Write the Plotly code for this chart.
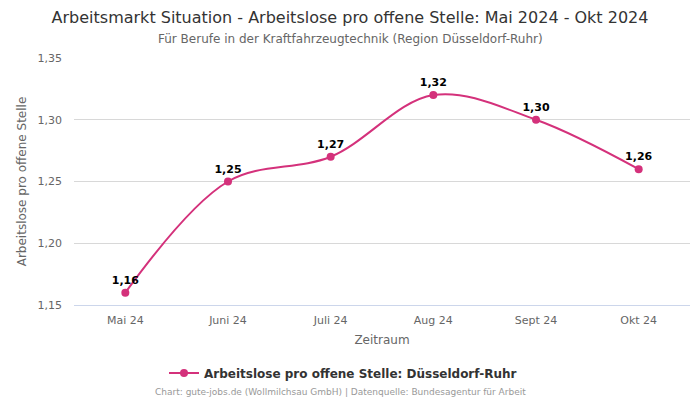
import plotly.graph_objects as go

months = ["Mai 24", "Juni 24", "Juli 24", "Aug 24", "Sept 24", "Okt 24"]
values = [1.16, 1.25, 1.27, 1.32, 1.30, 1.26]
labels = ["1,16", "1,25", "1,27", "1,32", "1,30", "1,26"]
yticks = [1.15, 1.20, 1.25, 1.30, 1.35]

color = "#d4317b"
font = "DejaVu Sans"

fig = go.Figure()
fig.add_trace(go.Scatter(
    x=months, y=values, mode="lines+markers+text",
    line=dict(color=color, width=2, shape="spline", smoothing=1.0),
    marker=dict(color=color, size=8),
    text=labels, textposition="top center",
    textfont=dict(family=font, size=11, color="#000000", weight="bold"),
    name="Arbeitslose pro offene Stelle: Düsseldorf-Ruhr",
    cliponaxis=False,
))

fig.update_layout(
    width=700, height=400,
    margin=dict(l=74, r=10, t=58, b=95, autoexpand=False),
    paper_bgcolor="white", plot_bgcolor="white",
    separators=",.",
    font=dict(family=font, color="#666666"),
    title=dict(
        text="Arbeitsmarkt Situation - Arbeitslose pro offene Stelle: Mai 2024 - Okt 2024",
        x=0.5, xanchor="center", xref="container",
        y=0.9575, yanchor="middle", yref="container",
        font=dict(family=font, size=16, color="#333333"),
    ),
    annotations=[
        dict(text="Für Berufe in der Kraftfahrzeugtechnik (Region Düsseldorf-Ruhr)",
             xref="paper", yref="paper", x=(350 - 74) / 616, y=1.0, yshift=19, showarrow=False,
             xanchor="center", yanchor="middle",
             font=dict(family=font, size=12, color="#666666")),
        dict(text="Chart: gute-jobs.de (Wollmilchsau GmbH) | Datenquelle: Bundesagentur für Arbeit",
             xref="paper", yref="paper", x=(340 - 74) / 616, y=0, yshift=-87, showarrow=False,
             xanchor="center", yanchor="middle",
             font=dict(family=font, size=9, color="#999999")),
    ],
    showlegend=True,
    legend=dict(orientation="h", x=0.49, xanchor="center", xref="container",
                y=0.0675, yanchor="middle", yref="container",
                font=dict(family=font, size=12, color="#333333", weight="bold")),
    xaxis=dict(
        title=dict(text="Zeitraum", font=dict(family=font, size=12, color="#666666"), standoff=9),
        range=[-0.5, 5.5], showgrid=False, showline=True, linecolor="#ccd6eb",
        ticks="", ticklabelstandoff=5, automargin=False,
        tickfont=dict(family=font, size=11, color="#666666"),
    ),
    yaxis=dict(
        title=dict(text="Arbeitslose pro offene Stelle", font=dict(family=font, size=12, color="#666666"), standoff=8),
        range=[1.15, 1.35], tickvals=yticks, tickformat=".2f",
        gridcolor="#d8d8d8", showline=False, zeroline=False, automargin=False,
        ticks="", ticklabelstandoff=11,
        tickfont=dict(family=font, size=11, color="#666666"),
    ),
)
fig.write_html("out.html", config={"displayModeBar": False},
               post_script="document.body.style.margin='0';")
